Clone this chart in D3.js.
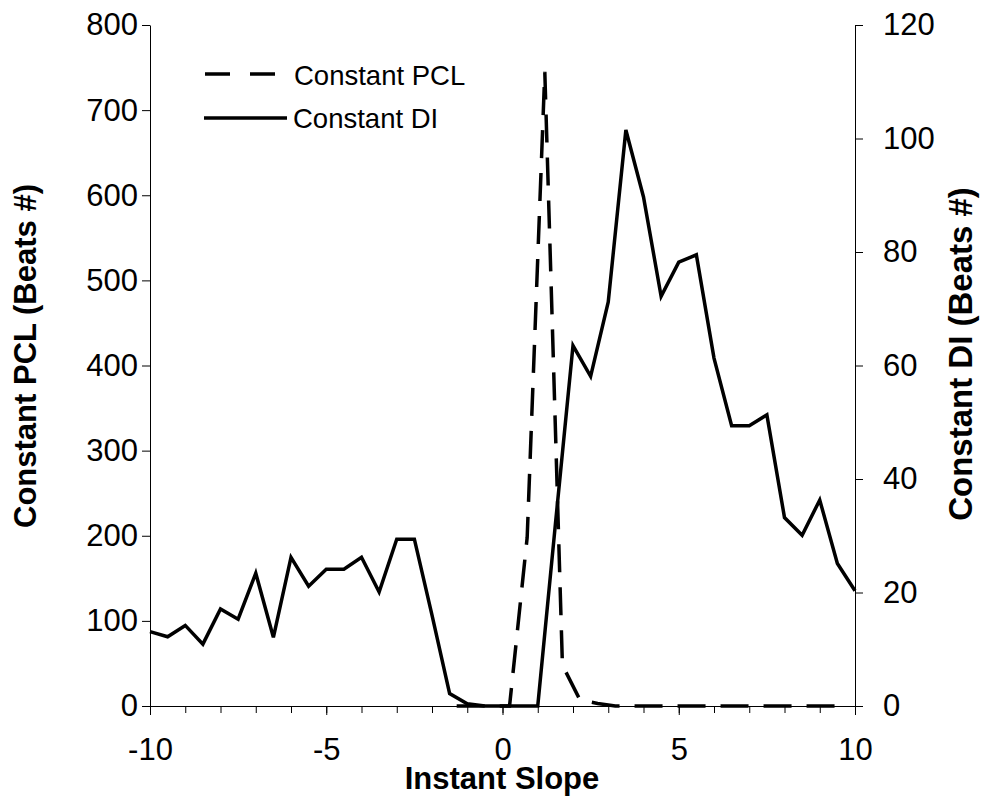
<!DOCTYPE html>
<html>
<head>
<meta charset="utf-8">
<script src="https://cdn.jsdelivr.net/npm/d3@7"></script>
<style>
  body { margin: 0; background: #fff; }
  svg text { font-family: "Liberation Sans", Arial, sans-serif; fill: #000; }
</style>
</head>
<body>
<svg id="chart"></svg>
<script>
// solid line: Constant DI (right axis), step 0.5
const diSlope = [-10, -9.5, -9, -8.5, -8, -7.5, -7, -6.5, -6, -5.5, -5, -4.5, -4, -3.5, -3, -2.5, -2, -1.5, -1, -0.5,
                 0, 0.5, 1, 1.5, 2, 2.5, 3, 3.5, 4, 4.5, 5, 5.5, 6, 6.5, 7, 7.5, 8, 8.5, 9, 9.5, 10];
const diBeats = [13.1, 12.2, 14.2, 10.9, 17.1, 15.3, 23.4, 12.1, 26.2, 21.1, 24.1, 24.1, 26.2, 20.1, 29.4, 29.4, 16, 2.2, 0.4, 0,
                 0, 0, 0, 32, 63.5, 58.1, 71.2, 101.5, 89.7, 72.2, 78.2, 79.5, 61.3, 49.4, 49.4, 51.3, 33.2, 30.1, 36.3, 25.1, 20.3];

// dashed line: Constant PCL (left axis)
const pclSlope = [-1.3, -0.8, -0.3, 0.2, 0.7, 1.2, 1.7, 2.2, 2.7, 3.2, 3.7, 4.2, 4.7, 5.2, 5.7, 6.2, 6.7, 7.2, 7.7, 8.2, 8.7, 9.2, 9.7];
const pclBeats = [0, 0, 0, 0, 198, 745, 48, 7, 3, 0, 0, 0, 0, 0, 0, 0, 0, 0, 0, 0, 0, 0, 0];

const xMajorTicks = [-10, -5, 0, 5, 10];
const xMinorTicks = [-10, -9, -8, -7, -6, -5, -4, -3, -2, -1, 0, 1, 2, 3, 4, 5, 6, 7, 8, 9, 10];
const leftTicks = [0, 100, 200, 300, 400, 500, 600, 700, 800];
const rightTicks = [0, 20, 40, 60, 80, 100, 120];

const svgWidth = 981, svgHeight = 801;
const plot = {left: 150, right: 855, top: 25, bottom: 706};

const svg = d3.select('#chart')
    .attr("width", svgWidth)
    .attr("height", svgHeight);

const x = d3.scaleLinear().domain([-10, 10]).range([plot.left, plot.right]);
const yL = d3.scaleLinear().domain([0, 800]).range([plot.bottom, plot.top]);
const yR = d3.scaleLinear().domain([0, 120]).range([plot.bottom, plot.top]);

// x axis: minor ticks every 1, major every 5 with labels
svg.append("g")
    .attr("transform", "translate(0," + plot.bottom + ")")
    .call(d3.axisBottom(x).tickValues(xMinorTicks).tickSize(7).tickFormat(""))
    .call(g => g.select(".domain").remove());

const xAxis = svg.append("g")
    .attr("transform", "translate(0," + plot.bottom + ")")
    .call(d3.axisBottom(x).tickValues(xMajorTicks).tickSize(9).tickPadding(23).tickSizeOuter(0)
      .tickFormat(d3.format("d")));

const yAxisL = svg.append("g")
    .attr("transform", "translate(" + plot.left + ",0)")
    .call(d3.axisLeft(yL).tickValues(leftTicks).tickSize(8).tickPadding(4).tickSizeOuter(0));

const yAxisR = svg.append("g")
    .attr("transform", "translate(" + plot.right + ",0)")
    .call(d3.axisRight(yR).tickValues(rightTicks).tickSize(8).tickPadding(20).tickSizeOuter(0));

svg.selectAll(".tick text")
    .style("font-family", '"Liberation Sans", Arial, sans-serif')
    .style("font-size", "31px");
xAxis.selectAll(".tick text").text(d => d < 0 ? "-" + Math.abs(d) : d);
svg.selectAll(".domain, .tick line").attr("stroke", "#000");

// axis titles
svg.append("text")
    .attr("x", 502)
    .attr("y", 789)
    .attr("text-anchor", "middle")
    .style("font-size", "31px")
    .style("font-weight", "bold")
    .text("Instant Slope");

svg.append("text")
    .attr("transform", "translate(36,356) rotate(-90)")
    .attr("text-anchor", "middle")
    .style("font-size", "31px")
    .style("font-weight", "bold")
    .text("Constant PCL (Beats #)");

svg.append("text")
    .attr("transform", "translate(972,354) rotate(-90)")
    .attr("text-anchor", "middle")
    .style("font-size", "33px")
    .style("font-weight", "bold")
    .text("Constant DI (Beats #)");

// lines
const pclLine = d3.line()
    .x((d, i) => x(pclSlope[i]))
    .y(d => yL(d));

const diLine = d3.line()
    .x((d, i) => x(diSlope[i]))
    .y(d => yR(d));

svg.append("path")
    .datum(pclBeats)
    .attr("d", pclLine)
    .attr("fill", "none")
    .attr("stroke", "#000")
    .attr("stroke-width", 3.5)
    .attr("stroke-dasharray", "28,15");

svg.append("path")
    .datum(diBeats)
    .attr("d", diLine)
    .attr("fill", "none")
    .attr("stroke", "#000")
    .attr("stroke-width", 3.5)
    .attr("stroke-linejoin", "miter");

// legend
const legend = svg.append("g");
legend.append("line")
    .attr("x1", 205).attr("x2", 277).attr("y1", 74).attr("y2", 74)
    .attr("stroke", "#000").attr("stroke-width", 3.5)
    .attr("stroke-dasharray", "25,20");
legend.append("text")
    .attr("x", 294).attr("y", 85)
    .style("font-size", "27.5px")
    .text("Constant PCL");
legend.append("line")
    .attr("x1", 204).attr("x2", 287).attr("y1", 118).attr("y2", 118)
    .attr("stroke", "#000").attr("stroke-width", 3.5);
legend.append("text")
    .attr("x", 293).attr("y", 128)
    .style("font-size", "27.5px")
    .text("Constant DI");
</script>
</body>
</html>
